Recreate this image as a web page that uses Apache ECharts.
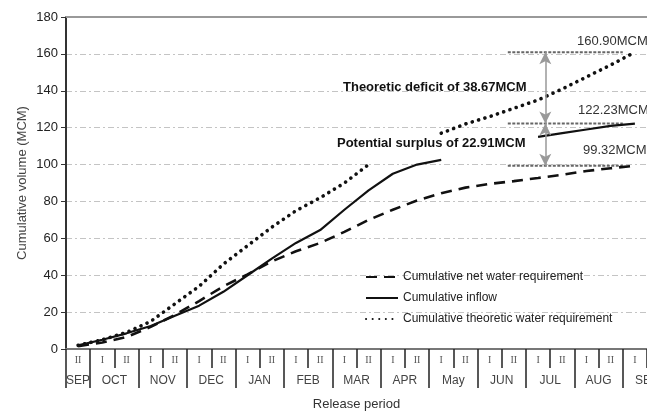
<!DOCTYPE html>
<html>
<head>
<meta charset="utf-8">
<script src="https://cdn.jsdelivr.net/npm/echarts@6/dist/echarts.min.js"></script>
<style>html,body{margin:0;padding:0;background:#fff;}#c{width:647px;height:411px;}</style>
</head>
<body>
<div id="c"></div>
<script>
// Half-month release periods (Sep II .. Sep I)
const periods = ['II','I','II','I','II','I','II','I','II','I','II','I','II','I','II','I','II','I','II','I','II','I','II','I'];
// Month labels at boundaries (25 boundaries between/around the 24 periods)
const monthLabels = ['SEP','','OCT','','NOV','','DEC','','JAN','','FEB','','MAR','','APR','','May','','JUN','','JUL','','AUG','','SEP'];
const yTicks = [0,20,40,60,80,100,120,140,160,180];

const netRequirement = [1.5,3.5,6.5,12,18.5,26,34,40.5,47.5,53,57.5,63.5,70,75.5,80.5,84.5,87.5,89.5,91,92.7,94.5,96.5,98,99.32];
const inflow = [2,5,8.5,12.5,18,23.5,31,40,49,57.5,64.5,75.5,86,95,100,102.5,null,null,null,115,117,119,121,122.23];
const theoretic = [2,5,9,15,24.5,34,46,56,66,75,82,90,100,null,null,117,122,126,130.5,135,141,147.5,154,160.9];

const totalTheoretic = 160.90, totalInflow = 122.23, totalNet = 99.32;

const chart = echarts.init(document.getElementById('c'), null, {renderer:'canvas'});
const FONT = 'Liberation Sans, Arial, sans-serif';

const monthData = monthLabels.map(function(m, i){
  return i === 0 ? {value:m, textStyle:{align:'left'}} : m;
});

const option = {
  animation:false,
  backgroundColor:'#fff',
  textStyle:{fontFamily:FONT},
  grid:{left:66, right:0, top:17, bottom:62, outerBoundsMode:'none', containLabel:false},
  legend:{
    orient:'vertical', left:360, top:266, itemWidth:32, itemHeight:12, itemGap:9,
    itemStyle:{opacity:0},
    textStyle:{fontSize:12, color:'#222', fontFamily:FONT},
    data:['Cumulative net water requirement','Cumulative inflow','Cumulative theoretic water requirement']
  },
  xAxis:[
    {type:'category', data:periods, boundaryGap:true, position:'bottom',
     axisLine:{show:true, lineStyle:{color:'#777', width:2}},
     axisTick:{show:true, interval:0, length:19, lineStyle:{color:'#222', width:1.5}},
     axisLabel:{interval:0, margin:6, fontSize:10, color:'#555', fontFamily:'Liberation Serif, serif'},
     splitLine:{show:false}},
    {type:'category', data:monthData, boundaryGap:false, position:'bottom',
     name:'Release period', nameLocation:'middle', nameGap:49,
     nameTextStyle:{fontSize:13, color:'#333', fontFamily:FONT},
     axisLine:{show:false},
     axisTick:{show:true, length:39, interval:function(i){return i===0 || i%2===1;}, lineStyle:{color:'#222', width:1.5}},
     axisLabel:{interval:function(i,v){return v!=='';}, margin:26, fontSize:12, color:'#444', fontFamily:FONT},
     splitLine:{show:false}},
    {type:'value', min:0, max:24, position:'top',
     axisLine:{show:true, onZero:false, lineStyle:{color:'#999', width:2}},
     axisTick:{show:false}, axisLabel:{show:false}, splitLine:{show:false}}
  ],
  yAxis:{
    type:'value', min:0, max:180, interval:20,
    name:'Cumulative volume (MCM)', nameLocation:'middle', nameGap:37, nameMoveOverlap:false,
    nameTextStyle:{fontSize:13, color:'#444', fontFamily:FONT},
    axisLine:{show:true, lineStyle:{color:'#333', width:2}},
    axisTick:{show:true, length:5, lineStyle:{color:'#333'}},
    axisLabel:{fontSize:13, color:'#222', margin:8, fontFamily:FONT,
      formatter:function(v){return yTicks.indexOf(v)>=0 ? String(v) : '';}},
    splitLine:{show:true, lineStyle:{color:'#c4c4c4', width:1, type:[6,3,2,3]}}
  },
  series:[
    {name:'Cumulative net water requirement', type:'line', data:netRequirement, xAxisIndex:0,
     symbol:'none', lineStyle:{color:'#111', width:2.6, type:[11,7]}, itemStyle:{color:'#111'}},
    {name:'Cumulative inflow', type:'line', data:inflow, xAxisIndex:0,
     symbol:'none', lineStyle:{color:'#111', width:2.2}, itemStyle:{color:'#111'}},
    {name:'Cumulative theoretic water requirement', type:'line', data:theoretic, xAxisIndex:0,
     symbol:'none', lineStyle:{color:'#111', width:3.6, type:[0.1,6.5], cap:'round'}, itemStyle:{color:'#111'}},
    // reference levels
    {type:'line', xAxisIndex:2, silent:true, symbol:'none', data:[[18.25,totalTheoretic],[23,totalTheoretic]],
     lineStyle:{color:'#666', width:2, type:[3,1.5]}, z:1},
    {type:'line', xAxisIndex:2, silent:true, symbol:'none', data:[[18.25,totalInflow],[23,totalInflow]],
     lineStyle:{color:'#666', width:2, type:[3,1.5]}, z:1},
    {type:'line', xAxisIndex:2, silent:true, symbol:'none', data:[[18.25,totalNet],[23,totalNet]],
     lineStyle:{color:'#666', width:2, type:[3,1.5]}, z:1,
     markLine:{silent:true, symbol:['arrow','arrow'], symbolSize:[9,12],
       lineStyle:{color:'#999', width:1.5, type:'solid'}, label:{show:false},
       data:[
         [{coord:[19.8,totalTheoretic]},{coord:[19.8,totalInflow]}],
         [{coord:[19.8,totalInflow]},{coord:[19.8,totalNet]}]
       ]}}
  ],
  graphic:[
    {type:'text', left:577, top:35, style:{text:totalTheoretic.toFixed(2)+'MCM', fontSize:13, fill:'#333', fontFamily:FONT}},
    {type:'text', left:578, top:104, style:{text:totalInflow.toFixed(2)+'MCM', fontSize:13, fill:'#333', fontFamily:FONT}},
    {type:'text', left:583, top:144, style:{text:totalNet.toFixed(2)+'MCM', fontSize:13, fill:'#333', fontFamily:FONT}},
    {type:'text', left:343, top:81, style:{text:'Theoretic deficit of '+(totalTheoretic-totalInflow).toFixed(2)+'MCM', fontSize:13, fontWeight:'bold', fill:'#111', fontFamily:FONT}},
    {type:'text', left:337, top:137, style:{text:'Potential surplus of '+(totalInflow-totalNet).toFixed(2)+'MCM', fontSize:13, fontWeight:'bold', fill:'#111', fontFamily:FONT}}
  ]
};
chart.setOption(option);
</script>
</body>
</html>
